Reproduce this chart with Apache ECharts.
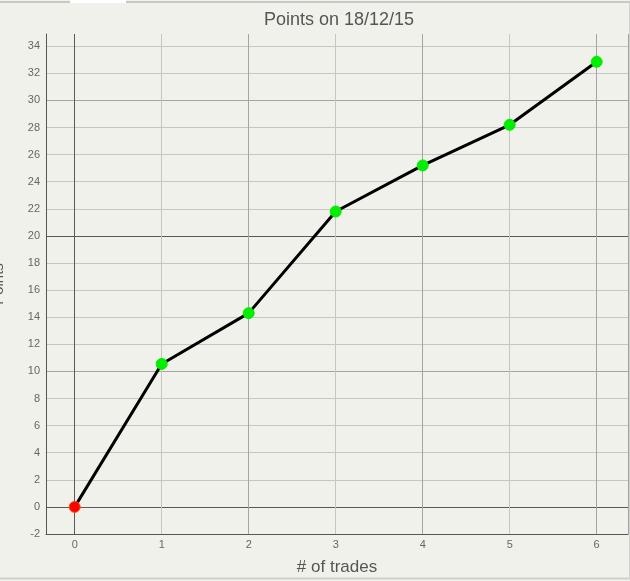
<!DOCTYPE html>
<html><head><meta charset="utf-8">
<script src="https://cdn.jsdelivr.net/npm/echarts@6/dist/echarts.min.js"></script>
<style>html,body{margin:0;padding:0;background:#f1f1ec;}#c{width:630px;height:581px;}</style>
</head><body><div id="c"></div>
<script>
const trades = [0, 1, 2, 3, 4, 5, 6];
const points = [0, 10.55, 14.3, 21.8, 25.2, 28.2, 32.85];
const title = 'Points on 18/12/15';
const xName = '# of trades';
const yName = 'Points';

const D = '#5a5a5a', M = '#a4a4a4', L = '#c6c6c2';
// y split lines: -2,0,2,...,34,max
const yColors = [D, D, L, L, L, L, M, L, L, L, L, D, L, L, L, L, M, L, L, 'rgba(0,0,0,0)'];
// x split lines: min,0..6,max
const xColors = [D, D, L, M, L, M, L, M, M];

const chart = echarts.init(document.getElementById('c'));
chart.setOption({
  backgroundColor: '#f1f1ec',
  animation: false,
  title: { text: title, left: 334, textAlign: 'center', top: 6,
    textStyle: { fontFamily: 'Liberation Sans', fontSize: 18, fontWeight: 'normal', color: '#555' } },
  grid: { left: 46, right: 2, top: 34, bottom: 47, containLabel: false, outerBoundsMode: 'none' },
  xAxis: {
    type: 'value', min: -0.33, max: 6.36,
    name: xName, nameLocation: 'middle', nameGap: 25,
    nameTextStyle: { fontFamily: 'Liberation Sans', fontSize: 17, color: '#555' },
    axisLine: { show: true, onZero: false, lineStyle: { color: '#555', width: 1 } },
    axisTick: { show: false },
    axisLabel: { fontFamily: 'Liberation Sans', fontSize: 11, color: '#666', margin: 5,
      formatter: v => Number.isInteger(v) ? String(v) : '' },
    splitLine: { show: true, lineStyle: { color: xColors, width: 1 } }
  },
  yAxis: {
    type: 'value', min: -2, max: 34.9, interval: 2,
    name: yName, nameLocation: 'middle', nameGap: 40, nameRotate: 90,
    nameTextStyle: { fontFamily: 'Liberation Sans', fontSize: 15, color: '#555' },
    axisLine: { show: true, onZero: false, lineStyle: { color: '#555', width: 1 } },
    axisTick: { show: false },
    axisLabel: { fontFamily: 'Liberation Sans', fontSize: 11, color: '#666', margin: 6,
      formatter: v => Number.isInteger(v) ? String(v) : '' },
    splitLine: { show: true, lineStyle: { color: yColors, width: 1 } }
  },
  graphic: [
    { type: 'line', shape: { x1: 0, y1: 2, x2: 630, y2: 2 }, style: { stroke: '#c8c8c8', lineWidth: 2 } },
    { type: 'rect', shape: { x: 70, y: 0, width: 56, height: 3 }, style: { fill: '#ffffff' } },
    { type: 'line', shape: { x1: 0, y1: 578.5, x2: 630, y2: 578.5 }, style: { stroke: '#d0d0d0', lineWidth: 2 } },
    { type: 'line', shape: { x1: 629.5, y1: 3, x2: 629.5, y2: 579 }, style: { stroke: '#d0d0d0', lineWidth: 1 } }
  ],
  series: [{
    type: 'line',
    data: trades.map((t, i) => ({
      value: [t, points[i]],
      itemStyle: { color: i === 0 ? '#ff0000' : '#00ee00', borderColor: i === 0 ? '#ff5500' : '#00ee00', borderWidth: 1 }
    })),
    symbol: 'circle', symbolSize: 11, showSymbol: true,
    lineStyle: { color: '#000', width: 3 },
    z: 5
  }]
});
</script></body></html>
